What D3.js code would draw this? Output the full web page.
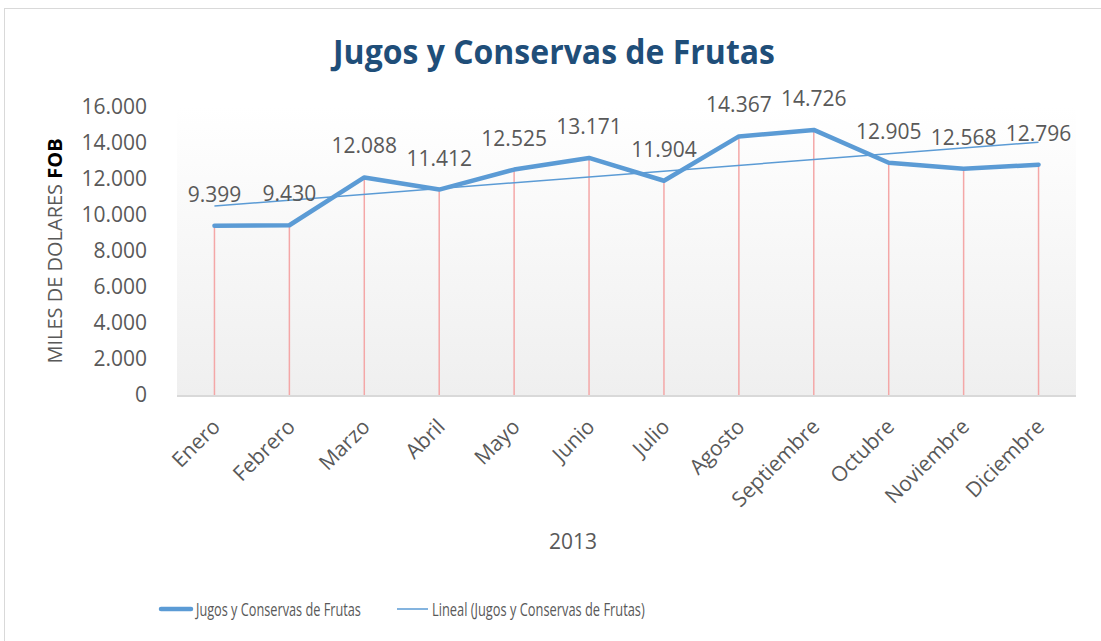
<!DOCTYPE html>
<html>
<head>
<meta charset="utf-8">
<style>
  body { margin: 0; background: #fff; }
  text { font-family: "Open Sans", sans-serif; fill: #595959; }
</style>
</head>
<body>
<svg width="1101" height="641"></svg>
<script src="https://d3js.org/d3.v7.min.js"></script>
<script>
// datos
var meses = ['Enero', 'Febrero', 'Marzo', 'Abril', 'Mayo', 'Junio', 'Julio',
  'Agosto', 'Septiembre', 'Octubre', 'Noviembre', 'Diciembre'];
var valores = [9399, 9430, 12088, 11412, 12525, 13171, 11904, 14367, 14726, 12905, 12568, 12796];
var yTicks = [0, 2000, 4000, 6000, 8000, 10000, 12000, 14000, 16000];
var serie = 'Jugos y Conservas de Frutas';
var anio = '2013';

var svg = d3.select('svg');
var margin = { left: 177, right: 25, top: 107, bottom: 246 };
var width = +svg.attr('width') - margin.left - margin.right;
var height = +svg.attr('height') - margin.top - margin.bottom;

var es = d3.formatLocale({ decimal: ',', thousands: '.', grouping: [3], currency: ['$', ''] });
var fmt = es.format(',');

// borde del gráfico
svg.append('rect')
  .attr('x', 4.5).attr('y', 8.5)
  .attr('width', 1110).attr('height', 650)
  .attr('fill', '#fff').attr('stroke', '#d9d9d9');

// degradado del área de trazado
var grad = svg.append('defs').append('linearGradient')
  .attr('id', 'fondo').attr('x1', 0).attr('y1', 0).attr('x2', 0).attr('y2', 1);
grad.append('stop').attr('offset', '0%').attr('stop-color', '#ffffff');
grad.append('stop').attr('offset', '100%').attr('stop-color', '#efefef');

var g = svg.append('g').attr('transform', `translate(${margin.left}, ${margin.top})`);

var x = d3.scaleBand().domain(meses).range([0, width]);
var y = d3.scaleLinear().domain([0, 16000]).range([height, 0]);
var cx = function (m) { return x(m) + x.bandwidth() / 2; };

g.append('rect')
  .attr('width', width).attr('height', height)
  .attr('fill', 'url(#fondo)');

// eje Y (sin línea)
var yAxis = g.append('g')
  .call(d3.axisLeft(y).tickValues(yTicks).tickFormat(function (d) { return d === 0 ? '0' : fmt(d); }).tickSize(0).tickPadding(30));
yAxis.select('.domain').remove();
yAxis.selectAll('text').style('font-size', '21px').attr('fill', '#595959');

// líneas de caída
g.selectAll('.caida').data(valores).enter().append('line')
  .attr('class', 'caida')
  .attr('x1', function (d, i) { return cx(meses[i]); })
  .attr('x2', function (d, i) { return cx(meses[i]); })
  .attr('y1', function (d) { return y(d); })
  .attr('y2', height + 1)
  .attr('stroke', '#f4a7a7').attr('stroke-width', 1.5);

// eje X
g.append('line')
  .attr('x1', 0).attr('x2', width)
  .attr('y1', height + 1).attr('y2', height + 1)
  .attr('stroke', '#d9d9d9').attr('stroke-width', 2);

g.selectAll('.mes').data(meses).enter().append('text')
  .attr('class', 'mes')
  .attr('text-anchor', 'end')
  .attr('transform', function (d) { return `translate(${cx(d) + 7}, ${height + 33}) rotate(-45)`; })
  .style('font-size', '21px')
  .text(function (d) { return d; });

// línea de tendencia (regresión lineal)
var n = valores.length;
var mx = d3.mean(valores, function (d, i) { return i + 1; });
var my = d3.mean(valores);
var sxy = d3.sum(valores, function (d, i) { return (i + 1 - mx) * (d - my); });
var sxx = d3.sum(valores, function (d, i) { return (i + 1 - mx) * (i + 1 - mx); });
var pend = sxy / sxx;
var tend = valores.map(function (d, i) { return my + pend * (i + 1 - mx); });

var linea = d3.line()
  .x(function (d, i) { return cx(meses[i]); })
  .y(function (d) { return y(d); });

g.append('path')
  .datum([tend[0], tend[n - 1]])
  .attr('fill', 'none')
  .attr('stroke', '#5b9bd5').attr('stroke-width', 1.5)
  .attr('d', d3.line()
    .x(function (d, i) { return cx(meses[i === 0 ? 0 : n - 1]); })
    .y(function (d) { return y(d); }));

g.append('path')
  .datum(valores)
  .attr('fill', 'none')
  .attr('stroke', '#5b9bd5').attr('stroke-width', 4.5)
  .attr('stroke-linejoin', 'round').attr('stroke-linecap', 'round')
  .attr('d', linea);

// etiquetas de datos
g.selectAll('.etq').data(valores).enter().append('text')
  .attr('class', 'etq')
  .attr('text-anchor', 'middle')
  .attr('x', function (d, i) { return cx(meses[i]); })
  .attr('y', function (d) { return y(d) - 24; })
  .style('font-size', '21px')
  .text(function (d) { return fmt(d); });

// texto angosto: se escala en horizontal hasta el ancho deseado
function angosto(sel, x0, y0, ancho) {
  var w = sel.node().getComputedTextLength();
  sel.attr('transform', `translate(${x0}, ${y0}) scale(${ancho / w}, 1)`);
}

// título
var tit = svg.append('text')
  .attr('text-anchor', 'middle')
  .style('font-size', '34px').style('font-weight', 'bold').style('fill', '#1f4e79')
  .text(serie);
angosto(tit, 554, 64, 442);

// título eje Y
var yt = svg.append('text')
  .attr('transform', `translate(62, ${margin.top + height / 2}) rotate(-90)`)
  .attr('text-anchor', 'middle')
  .style('font-size', '20px');
yt.append('tspan').text('MILES DE DOLARES ');
yt.append('tspan').style('font-weight', 'bold').style('fill', '#000').text('FOB');

// título eje X
svg.append('text')
  .attr('x', 573).attr('y', 549)
  .attr('text-anchor', 'middle')
  .style('font-size', '21px')
  .text(anio);

// leyenda
var ley = svg.append('g');
ley.append('line').attr('x1', 161).attr('x2', 191).attr('y1', 609).attr('y2', 609)
  .attr('stroke', '#5b9bd5').attr('stroke-width', 4.5).attr('stroke-linecap', 'round');
angosto(ley.append('text').style('font-size', '19px').text(serie), 196, 616, 165);
ley.append('line').attr('x1', 397).attr('x2', 428).attr('y1', 609).attr('y2', 609)
  .attr('stroke', '#5b9bd5').attr('stroke-width', 1.5);
angosto(ley.append('text').style('font-size', '19px').text('Lineal (' + serie + ')'), 432, 616, 213);
</script>
</body>
</html>
